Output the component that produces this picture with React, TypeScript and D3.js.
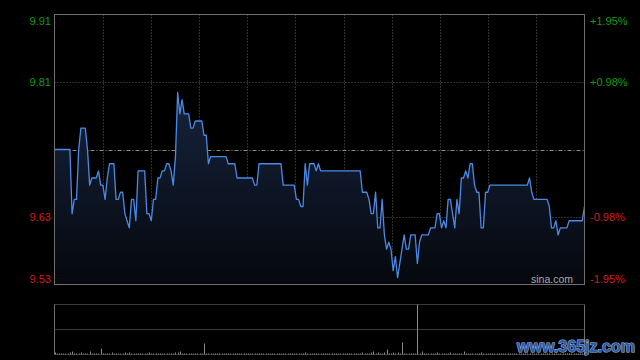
import React from 'react';
import * as d3 from 'd3';

const prevClose = 9.72;
const pctRange = 0.0195;

const prices: number[] = [
  9.72, 9.72, 9.72, 9.72, 9.72, 9.72, 9.72, 9.72, 9.63, 9.65,
  9.65, 9.72, 9.75, 9.75, 9.75, 9.72, 9.67, 9.68, 9.68, 9.68,
  9.69, 9.67, 9.67, 9.65, 9.68, 9.70, 9.70, 9.70, 9.65, 9.65,
  9.66, 9.66, 9.63, 9.62, 9.61, 9.65, 9.65, 9.62, 9.69, 9.69,
  9.69, 9.69, 9.63, 9.63, 9.62, 9.65, 9.65, 9.68, 9.68, 9.69,
  9.69, 9.70, 9.70, 9.69, 9.67, 9.71, 9.80, 9.77, 9.79, 9.77,
  9.77, 9.77, 9.75, 9.75, 9.76, 9.76, 9.76, 9.76, 9.74, 9.74,
  9.70, 9.71, 9.71, 9.71, 9.71, 9.71, 9.71, 9.71, 9.71, 9.70,
  9.70, 9.70, 9.70, 9.68, 9.68, 9.68, 9.68, 9.68, 9.68, 9.68,
  9.68, 9.67, 9.67, 9.70, 9.70, 9.70, 9.70, 9.70, 9.70, 9.70,
  9.70, 9.70, 9.70, 9.70, 9.67, 9.67, 9.67, 9.67, 9.67, 9.67,
  9.65, 9.65, 9.64, 9.64, 9.70, 9.67, 9.70, 9.70, 9.70, 9.69,
  9.70, 9.69, 9.69, 9.69, 9.69, 9.69, 9.69, 9.69, 9.69, 9.69,
  9.69, 9.69, 9.69, 9.69, 9.69, 9.69, 9.69, 9.69, 9.69, 9.69,
  9.66, 9.66, 9.66, 9.65, 9.63, 9.63, 9.66, 9.61, 9.61, 9.65,
  9.60, 9.58, 9.59, 9.58, 9.55, 9.57, 9.54, 9.56, 9.58, 9.60,
  9.58, 9.58, 9.60, 9.60, 9.60, 9.56, 9.59, 9.60, 9.60, 9.60,
  9.60, 9.61, 9.61, 9.61, 9.63, 9.63, 9.61, 9.62, 9.61, 9.65,
  9.65, 9.63, 9.61, 9.65, 9.63, 9.68, 9.68, 9.69, 9.68, 9.70,
  9.70, 9.67, 9.66, 9.66, 9.61, 9.61, 9.66, 9.66, 9.67, 9.67,
  9.67, 9.67, 9.67, 9.67, 9.67, 9.67, 9.67, 9.67, 9.67, 9.67,
  9.67, 9.67, 9.67, 9.67, 9.67, 9.67, 9.68, 9.66, 9.65, 9.65,
  9.65, 9.65, 9.65, 9.65, 9.65, 9.64, 9.61, 9.61, 9.62, 9.60,
  9.61, 9.61, 9.61, 9.61, 9.62, 9.62, 9.62, 9.62, 9.62, 9.62,
  9.62, 9.64,
];

const volumes: number[] = [
  2, 1, 1, 1, 1, 1, 1, 2, 3, 1,
  1, 1, 2, 1, 1, 1, 3, 1, 1, 1,
  1, 6, 1, 1, 1, 1, 2, 1, 1, 1,
  1, 1, 2, 1, 2, 1, 1, 1, 1, 1,
  1, 1, 1, 2, 1, 1, 1, 1, 1, 1,
  1, 1, 1, 1, 1, 2, 2, 3, 1, 1,
  1, 1, 1, 1, 1, 1, 1, 1, 11, 1,
  1, 1, 1, 1, 1, 1, 1, 1, 1, 1,
  1, 1, 1, 1, 1, 1, 1, 1, 1, 1,
  1, 1, 1, 1, 1, 1, 1, 1, 1, 1,
  1, 1, 1, 1, 1, 1, 1, 1, 1, 1,
  1, 1, 1, 1, 2, 1, 1, 1, 1, 1,
  1, 1, 1, 1, 1, 1, 1, 1, 1, 1,
  1, 1, 1, 1, 1, 1, 1, 1, 1, 1,
  2, 1, 1, 1, 2, 3, 1, 2, 1, 1,
  2, 5, 1, 1, 2, 1, 2, 1, 12, 1,
  1, 1, 1, 1, 1, 1, 1, 3, 1, 1,
  1, 1, 1, 1, 2, 1, 1, 1, 1, 1,
  2, 1, 1, 1, 1, 1, 3, 1, 1, 1,
  1, 1, 1, 1, 2, 1, 1, 1, 1, 1,
  1, 1, 1, 1, 1, 1, 1, 1, 1, 1,
  1, 1, 1, 1, 1, 1, 1, 1, 1, 1,
  1, 1, 1, 1, 1, 1, 1, 1, 1, 1,
  1, 1, 1, 1, 1, 1, 1, 1, 1, 1,
  1, 2,
];
const volumeMax = 50;
const volumeMarkerIndex = 165;

const leftLabels = ['9.91', '9.81', '9.63', '9.53'];
const rightLabels = ['+1.95%', '+0.98%', '-0.98%', '-1.95%'];
const labelQuartiles = [0, 1, 3, 4];
const labelUp = [true, true, false, false];
const gridCols = 11;

const GREEN = '#109a10';
const RED = '#d41c1c';
const FONT = '"Liberation Sans", Arial, sans-serif';

export default function App() {
  const L = 54.5, R = 584.5, T = 14.5, B = 284.5;
  const VT = 304.5, VB = 354.5;
  const x = d3.scaleLinear().domain([0, prices.length - 1]).range([L, R]);
  const y = d3.scaleLinear()
    .domain([prevClose * (1 - pctRange), prevClose * (1 + pctRange)])
    .range([B, T]);
  const vy = d3.scaleLinear().domain([0, volumeMax]).range([VB, VT]);

  const line = d3.line<number>().x((_, i) => x(i)).y((d) => y(d));
  const area = d3.area<number>().x((_, i) => x(i)).y0(B).y1((d) => y(d));

  const qH = (B - T) / 4;
  const colW = (R - L) / gridCols;

  return (
    <svg width={640} height={360} style={{ position: 'absolute', left: 0, top: 0 }}>
      <defs>
        <linearGradient id="areaGrad" gradientUnits="userSpaceOnUse" x1="0" y1={80} x2="0" y2={B}>
          <stop offset="0%" stopColor="#172540" />
          <stop offset="100%" stopColor="#05080d" />
        </linearGradient>
      </defs>
      <rect x={0} y={0} width={640} height={360} fill="#000" />

      {d3.range(1, gridCols).map((k) => (
        <line key={'vg' + k} x1={Math.round(L + k * colW) + 0.5} x2={Math.round(L + k * colW) + 0.5}
          y1={T} y2={B} stroke="#5c5c5c" strokeDasharray="1,2" />
      ))}
      {[1, 3].map((q) => (
        <line key={'hg' + q} x1={L} x2={R} y1={Math.round(T + q * qH) + 0.5} y2={Math.round(T + q * qH) + 0.5}
          stroke="#5c5c5c" strokeDasharray="1,2" />
      ))}
      <line x1={L} x2={R} y1={Math.round(y(prevClose)) + 0.5} y2={Math.round(y(prevClose)) + 0.5}
        stroke="#8a8a8a" strokeDasharray="4,2,1,2" />

      <path d={area(prices) || ''} fill="url(#areaGrad)" />
      <path d={line(prices) || ''} fill="none" stroke="#4a8ae6" strokeWidth={1.3} strokeLinejoin="round" />

      <rect x={L} y={T} width={R - L} height={B - T} fill="none" stroke="#6e6e6e" />

      {leftLabels.map((t, i) => {
        const q = labelQuartiles[i];
        const cy = T + q * qH + (q === 0 ? 6 : q === 4 ? -6 : 0);
        return (
          <text key={'ll' + i} x={51} y={cy + 4} textAnchor="end" fontFamily={FONT} fontSize={11}
            fill={labelUp[i] ? GREEN : RED}>{t}</text>
        );
      })}
      {rightLabels.map((t, i) => {
        const q = labelQuartiles[i];
        const cy = T + q * qH + (q === 0 ? 6 : q === 4 ? -6 : 0);
        return (
          <text key={'rl' + i} x={590} y={cy + 4} textAnchor="start" fontFamily={FONT} fontSize={11}
            fill={labelUp[i] ? GREEN : RED}>{t}</text>
        );
      })}

      <text x={573} y={283} textAnchor="end" fontFamily={FONT} fontSize={10.5} fill="#a8a8a8">sina.com</text>

      {/* volume panel */}
      <line x1={L} x2={R} y1={VT} y2={VT} stroke="#777" strokeDasharray="1,1" />
      <line x1={L} x2={R} y1={(VT + VB) / 2} y2={(VT + VB) / 2} stroke="#777" strokeDasharray="1,1" />
      <line x1={L} x2={R} y1={VB} y2={VB} stroke="#777" strokeDasharray="1,1" />
      <line x1={L} x2={L} y1={VT} y2={VB} stroke="#6e6e6e" />
      <line x1={R} x2={R} y1={VT} y2={VB} stroke="#6e6e6e" />
      <line x1={Math.round(x(volumeMarkerIndex)) + 0.5} x2={Math.round(x(volumeMarkerIndex)) + 0.5}
        y1={VT} y2={VB} stroke="#8a8a8a" />
      {volumes.map((v, i) => (
        <line key={'v' + i} x1={Math.round(x(i)) + 0.5} x2={Math.round(x(i)) + 0.5}
          y1={VB} y2={vy(v)} stroke="#8a8a8a" />
      ))}

      <text x={517} y={352} fontFamily={FONT} fontSize={16} fontWeight="bold" fill="#2d5aa8"
        stroke="#a9c0e6" strokeWidth={1} paintOrder="stroke" textLength={118} lengthAdjust="spacingAndGlyphs">
        www.365jz.com
      </text>
    </svg>
  );
}
